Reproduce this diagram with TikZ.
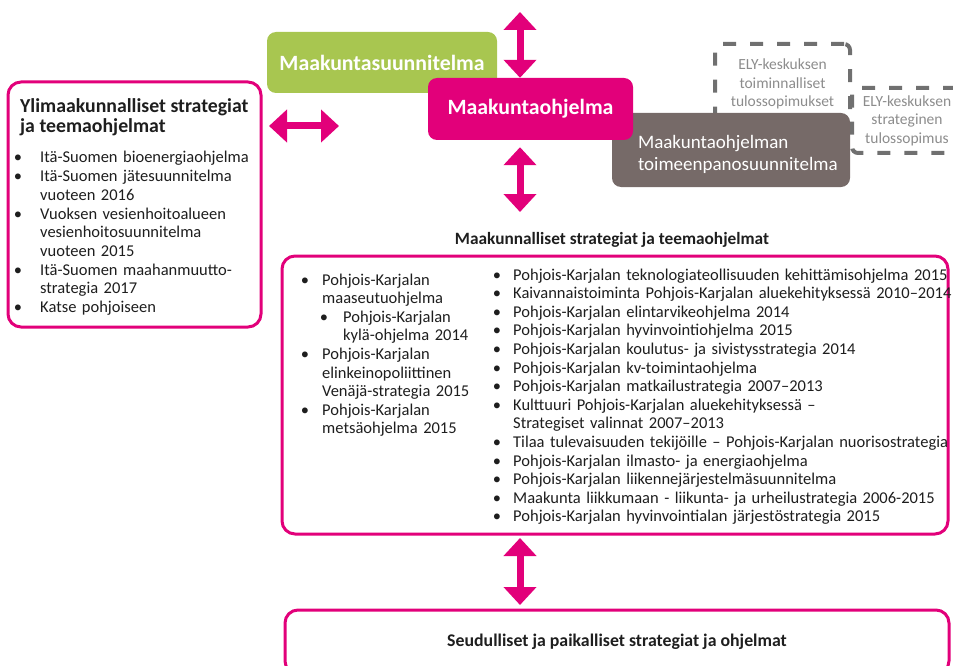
\documentclass[tikz,border=0pt]{standalone}
\usepackage{fontspec}
\setmainfont{Carlito}
\usetikzlibrary{arrows.meta}

\definecolor{mkmagenta}{RGB}{226,0,122}
\definecolor{mkgreen}{RGB}{168,198,80}
\definecolor{mkgray}{RGB}{118,106,104}
\definecolor{elyline}{RGB}{112,112,112}
\definecolor{elytext}{RGB}{140,140,140}
\definecolor{mktext}{RGB}{30,30,30}

\newcommand{\listfont}{\fontsize{16.5}{18.6}\selectfont}
\newcommand{\otsikko}{\bfseries\fontsize{17.3}{20}\selectfont}

\newenvironment{pallot}[2]{\begin{list}{\textbullet}{\setlength{\leftmargin}{#1}\setlength{\labelsep}{#2}\setlength{\labelwidth}{10pt}\setlength{\itemsep}{0pt}\setlength{\parsep}{0pt}\setlength{\topsep}{0pt}\setlength{\partopsep}{0pt}\setlength{\itemindent}{0pt}}}{\end{list}}

\begin{document}
\begin{tikzpicture}[x=1pt, y=-1pt,
	box/.style={rounded corners=9pt, inner sep=0pt},
	solidbox/.style={box, text=white, font=\bfseries\fontsize{21.8}{24}\selectfont},
	framebox/.style={draw=mkmagenta, line width=3pt, rounded corners=13pt, fill=white},
	elybox/.style={draw=elyline, line width=4pt, dash pattern=on 13pt off 14pt, rounded corners=6pt, inner sep=0pt, text=elytext, align=center, font=\fontsize{15.5}{18.5}\selectfont},
	listtext/.style={anchor=base west, inner sep=0pt, text width=#1, align=left, text=mktext, font=\listfont},
	dblarrow/.style={mkmagenta, line width=7pt, {Triangle[width=32pt,length=18pt]}-{Triangle[width=32pt,length=18pt]}},
	]
			\clip (0,0) rectangle (953,666);
			
			\node[solidbox, fill=mkgreen, minimum width=230pt, minimum height=61pt] (suunnitelma) at (382,62.5) {Maakuntasuunnitelma};
			\node[elybox, minimum width=135pt, minimum height=80pt] (toiminnalliset) at (782.5,84) {ELY-keskuksen\\toiminnalliset\\tulossopimukset};
			\node[elybox, text width=110pt, minimum height=65pt, anchor=west] (strateginen) at (850,120.5) {ELY-keskuksen\\strateginen\\tulossopimus};
			\node[box, fill=mkgray, text=white, text width=186pt, inner xsep=26pt, minimum height=74pt, align=left, font=\fontsize{19}{22}\selectfont] (toimeenpano) at (731,150) {\rule{0pt}{22pt}Maakuntaohjelman\\toimeenpanosuunnitelma};
			\node[solidbox, fill=mkmagenta, minimum width=205pt, minimum height=62pt] (ohjelma) at (530.5,109) {Maakuntaohjelma};
			
			% ylimaakunnalliset
			\node[framebox, minimum width=253pt, minimum height=245pt] (ylimaak) at (134.5,204.5) {};
			\node[anchor=base west, inner sep=0pt, align=left, text=mktext, font=\bfseries\fontsize{19.8}{20.5}\selectfont] (ylititle) at (20,133) {Ylimaakunnalliset strategiat\\ja teemaohjelmat};
			\node[listtext=235pt, font=\fontsize{16.5}{18.7}\selectfont] (ylilist) at (20,144.3) {\begin{pallot}{20pt}{18pt}
				\item Itä-Suomen bioenergiaohjelma
				\item Itä-Suomen jätesuunnitelma\newline vuoteen 2016
				\item Vuoksen vesienhoitoalueen\newline vesienhoitosuunnitelma\newline vuoteen 2015
				\item Itä-Suomen maahanmuutto-\newline strategia 2017
				\item Katse pohjoiseen
			\end{pallot}};
			
			% maakunnalliset
			\node[text=mktext, inner sep=0pt, font=\otsikko] (maaktitle) at (612,240) {Maakunnalliset strategiat ja teemaohjelmat};
			\node[framebox, minimum width=666pt, minimum height=278pt] (maakunnalliset) at (615,395) {};
			\node[listtext=180pt] (vasenlist) at (302,266.4) {\begin{pallot}{20pt}{13pt}
				\item Pohjois-Karjalan\newline maaseutuohjelma
				\begin{pallot}{21pt}{15pt}
					\item Pohjois-Karjalan\newline kylä-ohjelma 2014
				\end{pallot}
				\item Pohjois-Karjalan\newline elinkeinopoliittinen\newline Venäjä-strategia 2015
				\item Pohjois-Karjalan\newline metsäohjelma 2015
			\end{pallot}};
			\node[listtext=470pt] (oikealist) at (493,261.4) {\begin{pallot}{20pt}{12pt}
				\item Pohjois-Karjalan teknologiateollisuuden kehittämisohjelma 2015
				\item Kaivannaistoiminta Pohjois-Karjalan aluekehityksessä 2010–2014
				\item Pohjois-Karjalan elintarvikeohjelma 2014
				\item Pohjois-Karjalan hyvinvointiohjelma 2015
				\item Pohjois-Karjalan koulutus- ja sivistysstrategia 2014
				\item Pohjois-Karjalan kv-toimintaohjelma
				\item Pohjois-Karjalan matkailustrategia 2007–2013
				\item Kulttuuri Pohjois-Karjalan aluekehityksessä –\newline Strategiset valinnat 2007–2013
				\item Tilaa tulevaisuuden tekijöille – Pohjois-Karjalan nuorisostrategia
				\item Pohjois-Karjalan ilmasto- ja energiaohjelma
				\item Pohjois-Karjalan liikennejärjestelmäsuunnitelma
				\item Maakunta liikkumaan - liikunta- ja urheilustrategia 2006-2015
				\item Pohjois-Karjalan hyvinvointialan järjestöstrategia 2015
			\end{pallot}};
			
			\node[framebox, minimum width=664pt, minimum height=64pt, text=mktext, font=\bfseries\fontsize{17.8}{20}\selectfont] (seudulliset) at (617,642) {Seudulliset ja paikalliset strategiat ja ohjelmat};
			
			% nuolet
			\coordinate (yla) at (520,12);
			\coordinate (ala) at (520,212);
			\coordinate (sivu) at (339,126);
			\draw[dblarrow] (yla) -- (yla |- ohjelma.north);
			\draw[dblarrow, shorten <=7pt] (ala |- ohjelma.south) -- (ala);
			\draw[dblarrow, shorten <=6.5pt] (ylimaak.east |- sivu) -- (sivu);
			\draw[dblarrow, shorten <=2.5pt, shorten >=3.5pt] (ala |- maakunnalliset.south) -- (ala |- seudulliset.north);
\end{tikzpicture}
\end{document}
